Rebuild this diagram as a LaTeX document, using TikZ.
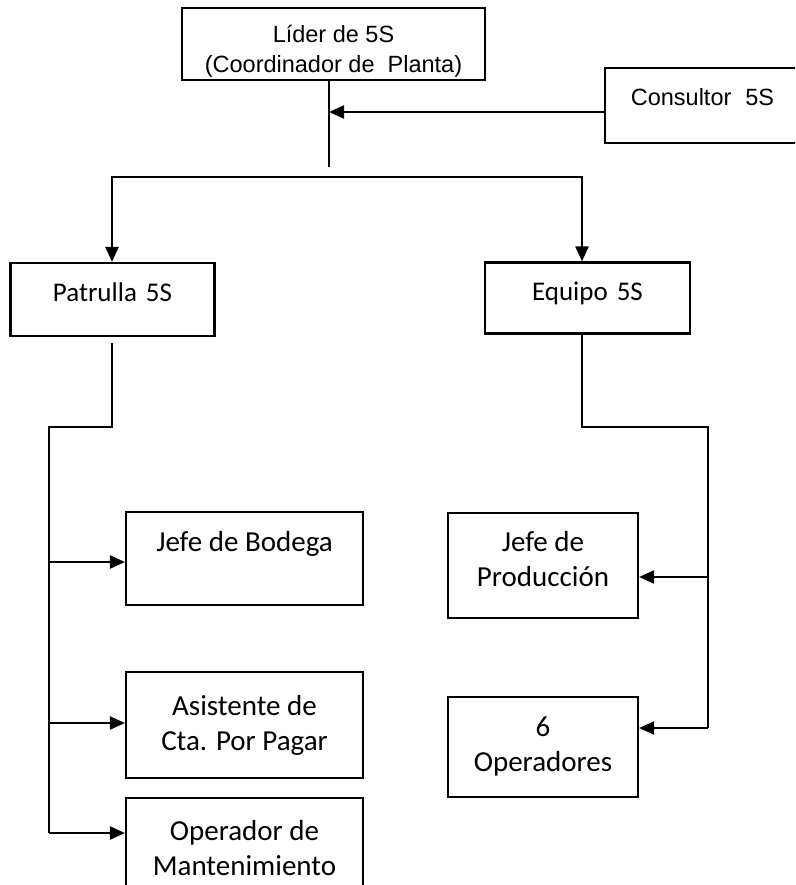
\documentclass[tikz,border=0pt]{standalone}
\usepackage{fontspec}
\setmainfont{Carlito}
\newfontfamily\arialfam{Liberation Sans}
\usetikzlibrary{arrows.meta}

% texto desplazado dentro de la caja sin cambiar su tamano
\newcommand{\moverTexto}[2]{\raisebox{#1}[\height][\depth]{\begin{tabular}{@{}c@{}}#2\end{tabular}}}

\tikzset{
  caja/.style={draw, line width=2.1pt, rectangle, align=center, inner sep=0pt},
  cajaarial/.style={caja, font=\arialfam\fontsize{23.5}{30}\selectfont},
  cajamedia/.style={caja, font=\fontsize{27}{32}\selectfont},
  cajabaja/.style={caja, font=\fontsize{29}{35}\selectfont},
  linea/.style={line width=2.1pt}
}

\begin{document}
\begin{tikzpicture}[x=1pt, y=-1pt, >={Triangle[length=15pt,width=13pt]}]
    \useasboundingbox (0,0) rectangle (795,885);
    \clip (0,0) rectangle (795,885);
    % Nivel superior
    \node[cajaarial, minimum width=303pt, minimum height=72pt] (lider) at (333.5,44)
        {\moverTexto{-8pt}{L\'ider de 5S\\(Coordinador de\ \ Planta)}};
    \node[cajaarial, minimum width=195pt, minimum height=75pt] (consultor) at (702.5,105.5)
        {\moverTexto{6pt}{Consultor\hspace{14pt}5S}};
    % Patrulla y equipo
    \node[cajamedia, minimum width=204pt, minimum height=73pt] (patrulla) at (112.5,299.5)
        {\moverTexto{4pt}{Patrulla\hspace{9pt}5S}};
    \node[cajamedia, minimum width=205pt, minimum height=71pt] (equipo) at (587.5,298)
        {\moverTexto{4pt}{Equipo\hspace{9pt}5S}};
    % Integrantes de la patrulla
    \node[cajabaja, minimum width=237pt, minimum height=93pt] (bodega) at (244.5,558.5)
        {Jefe de Bodega\\\mbox{}};
    \node[cajabaja, minimum width=237pt, minimum height=106pt] (asistente) at (244.5,725)
        {Asistente de\\Cta. Por Pagar};
    \node[cajabaja, minimum width=237pt, minimum height=100pt] (operador) at (244.5,848)
        {Operador de\\Mantenimiento};
    % Integrantes del equipo
    \node[cajabaja, minimum width=190pt, minimum height=105pt] (produccion) at (543,565.5)
        {\moverTexto{4pt}{Jefe de\\Producci\'on}};
    \node[cajabaja, minimum width=190pt, minimum height=100pt] (operadores) at (543,747)
        {6\\Operadores};

    % Puntos de las conexiones
    \coordinate (tronco) at (329,167);
    \coordinate (union) at (329,112);
    \coordinate (ramaI) at (112,177);
    \coordinate (ramaD) at (582,177);
    \coordinate (inicioI) at (112,343);
    \coordinate (codoI) at (49,427);
    \coordinate (f1) at (49,562);
    \coordinate (f2) at (49,723);
    \coordinate (f3) at (49,833);
    \coordinate (codoD) at (708,427);
    \coordinate (g1) at (708,577);
    \coordinate (g2) at (708,728);

    % Conexiones
    \draw[linea] (lider.south -| tronco) -- (tronco);
    \draw[linea, ->] (consultor.west |- union) -- (union);
    \draw[linea, <->] (patrulla.north -| ramaI) -- (ramaI) -- (ramaD) -- (equipo.north -| ramaD);
    \draw[linea] (inicioI) |- (codoI) -- (f3);
    \foreach \f/\n in {f1/bodega, f2/asistente, f3/operador}
        \draw[linea, ->] (\f) -- (\f -| \n.west);
    \draw[linea] (equipo.south -| ramaD) |- (codoD) -- (g2);
    \foreach \g/\n in {g1/produccion, g2/operadores}
        \draw[linea, ->] (\g) -- (\g -| \n.east);
\end{tikzpicture}
\end{document}
